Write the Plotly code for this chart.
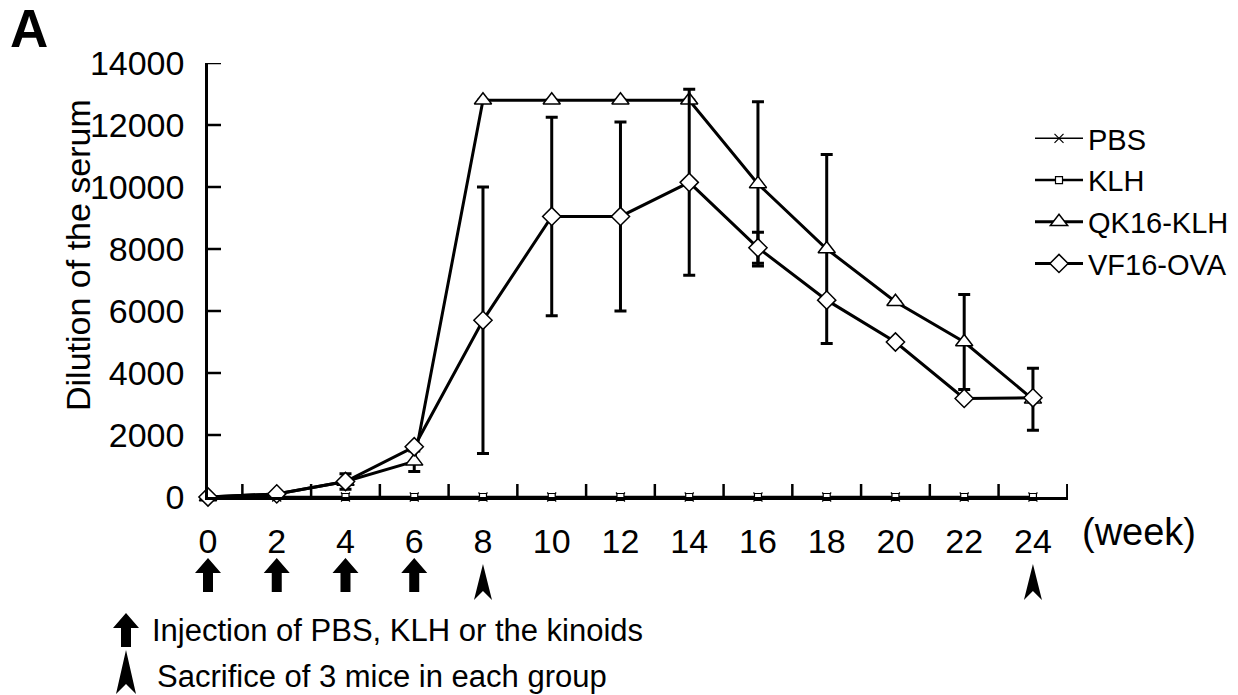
import plotly.graph_objects as go

# ---------------- data ----------------
weeks = [0, 2, 4, 6, 8, 10, 12, 14, 16, 18, 20, 22, 24]
week_labels = ["0", "2", "4", "6", "8", "10", "12", "14", "16", "18", "20", "22", "24"]
minor_weeks = [1, 3, 5, 7, 9, 11, 13, 15, 17, 19, 21, 23, 25]
y_ticks = [0, 2000, 4000, 6000, 8000, 10000, 12000, 14000]
y_tick_labels = ["0", "2000", "4000", "6000", "8000", "10000", "12000", "14000"]

pbs = [0, 0, 0, 0, 0, 0, 0, 0, 0, 0, 0, 0, 0]
klh = [0, 0, 0, 0, 0, 0, 0, 0, 0, 0, 0, 0, 0]
qk16_klh = [0, 100, 500, 1150, 12800, 12800, 12800, 12800, 10100, 8000, 6300, 5000, 3150]
qk16_klh_err = [0, 0, 250, 330, 0, 0, 0, 0, 2650, 3050, 0, 1530, 1000]
vf16_ova = [0, 100, 500, 1620, 5700, 9050, 9050, 10150, 8040, 6350, 5000, 3180, 3200]
vf16_ova_err = [0, 0, 0, 0, 4300, 3200, 3050, 3000, 500, 0, 0, 0, 0]

injection_weeks = [0, 2, 4, 6]
sacrifice_weeks = [8, 24]

# ---------------- layout geometry (pixels) ----------------
W, H = 1238, 695
L, R, T, B = 208, 170, 63, 198
PW, PH = W - L - R, H - T - B
X_RANGE = [0, 25.02]
Y_RANGE = [0, 14000]
TICK_PX = 13


def px(p):
    return (p - L) / PW


def py(p):
    return 1 - (p - T) / PH


def week_to_paper(w):
    return (w - X_RANGE[0]) / (X_RANGE[1] - X_RANGE[0])


FONT = "Liberation Sans, Arial, sans-serif"

fig = go.Figure()

# inward tick marks drawn through the axes' scales
y_tick_len = TICK_PX / PW * (X_RANGE[1] - X_RANGE[0])
x_tick_len = TICK_PX / PH * (Y_RANGE[1] - Y_RANGE[0])
fig.add_trace(go.Scatter(
    x=[X_RANGE[0]] * len(y_ticks), y=y_ticks, mode="markers",
    marker=dict(size=1, color="rgba(0,0,0,0)"),
    error_x=dict(type="data", symmetric=False, array=[y_tick_len] * len(y_ticks),
                 arrayminus=[0] * len(y_ticks), width=0, thickness=2.5, color="black"),
    showlegend=False, hoverinfo="skip", cliponaxis=False))

tick_x, tick_y = [], []
for wk in minor_weeks:
    tick_x += [wk, wk, None]
    tick_y += [Y_RANGE[0], Y_RANGE[0] + x_tick_len, None]
fig.add_trace(go.Scatter(
    x=tick_x, y=tick_y, mode="lines", connectgaps=False,
    line=dict(color="black", width=2.5),
    showlegend=False, hoverinfo="skip"))

fig.add_trace(go.Scatter(
    x=weeks, y=pbs, name="PBS", mode="lines+markers",
    line=dict(color="black", width=1.5),
    marker=dict(symbol="x-thin", size=9, line=dict(color="black", width=1.2)),
    cliponaxis=False, legendgroup="a"))

fig.add_trace(go.Scatter(
    x=weeks, y=klh, name="KLH", mode="lines+markers",
    line=dict(color="black", width=2.5),
    marker=dict(symbol="square", size=7, color="white", line=dict(color="black", width=1.2)),
    cliponaxis=False, legendgroup="b"))

fig.add_trace(go.Scatter(
    x=weeks, y=qk16_klh, name="QK16-KLH", mode="lines+markers",
    line=dict(color="black", width=3),
    marker=dict(symbol="triangle-up", size=15, color="white", line=dict(color="black", width=1.5)),
    error_y=dict(type="data", array=qk16_klh_err, color="black", thickness=3, width=6),
    cliponaxis=False, legendgroup="c"))

fig.add_trace(go.Scatter(
    x=weeks, y=vf16_ova, name="VF16-OVA", mode="lines+markers",
    line=dict(color="black", width=3),
    marker=dict(symbol="diamond", size=14, color="white", line=dict(color="black", width=1.5)),
    error_y=dict(type="data", array=vf16_ova_err, color="black", thickness=3, width=6),
    cliponaxis=False, legendgroup="d"))

# arrow glyphs (pixel paths relative to anchor, y up)
UP_ARROW = "M-5,-17 L5,-17 L5,2 L13,2 L0,17 L-13,2 L-5,2 Z"
SPIKE = "M0,18 L9,-18 L0,-9 L-9,-18 Z"
KEY_SPIKE = "M0,22 L10,-22 L0,-12 L-10,-22 Z"

shapes = []
for wk in injection_weeks:
    shapes.append(dict(type="path", path=UP_ARROW, xref="paper", yref="paper",
                       xsizemode="pixel", ysizemode="pixel", xanchor=week_to_paper(wk), yanchor=py(575),
                       fillcolor="black", line=dict(width=0)))
for wk in sacrifice_weeks:
    shapes.append(dict(type="path", path=SPIKE, xref="paper", yref="paper",
                       xsizemode="pixel", ysizemode="pixel", xanchor=week_to_paper(wk), yanchor=py(582),
                       fillcolor="black", line=dict(width=0)))
# key glyphs
shapes.append(dict(type="path", path=UP_ARROW, xref="paper", yref="paper",
                   xsizemode="pixel", ysizemode="pixel", xanchor=px(126), yanchor=py(630),
                   fillcolor="black", line=dict(width=0)))
shapes.append(dict(type="path", path=KEY_SPIKE, xref="paper", yref="paper",
                   xsizemode="pixel", ysizemode="pixel", xanchor=px(126), yanchor=py(672),
                   fillcolor="black", line=dict(width=0)))

annotations = [
    dict(text="<b>A</b>", x=px(8), y=py(28), xref="paper", yref="paper",
         xanchor="left", yanchor="middle", showarrow=False,
         font=dict(family=FONT, size=53, color="black")),
    dict(text="Dilution of the serum", x=px(78), y=py(255), xref="paper", yref="paper",
         xanchor="center", yanchor="middle", textangle=-90, showarrow=False,
         font=dict(family=FONT, size=34, color="black")),
    dict(text="(week)", x=px(1080), y=py(532), xref="paper", yref="paper",
         xanchor="left", yanchor="middle", showarrow=False,
         font=dict(family=FONT, size=38, color="black")),
    dict(text="Injection of PBS, KLH or the kinoids", x=px(150), y=py(630), xref="paper", yref="paper",
         xanchor="left", yanchor="middle", showarrow=False,
         font=dict(family=FONT, size=31, color="black")),
    dict(text="Sacrifice of 3 mice in each group", x=px(155), y=py(676), xref="paper", yref="paper",
         xanchor="left", yanchor="middle", showarrow=False,
         font=dict(family=FONT, size=31, color="black")),
]

fig.update_layout(
    width=W, height=H,
    margin=dict(l=L, r=R, t=T, b=B, autoexpand=False),
    paper_bgcolor="white", plot_bgcolor="white",
    font=dict(family=FONT, color="black"),
    showlegend=True,
    legend=dict(x=px(1030), y=py(113), xanchor="left", yanchor="top",
                font=dict(family=FONT, size=29, color="black"),
                bgcolor="rgba(0,0,0,0)", tracegroupgap=1, itemwidth=48),
    shapes=shapes,
    annotations=annotations,
    xaxis=dict(range=X_RANGE, showgrid=False, zeroline=False,
               showline=True, linecolor="black", linewidth=2.5,
               tickmode="array", tickvals=weeks, ticktext=week_labels,
               ticks="", ticklabelstandoff=12,
               tickfont=dict(family=FONT, size=34, color="black")),
    yaxis=dict(range=Y_RANGE, showgrid=False, zeroline=False,
               showline=True, linecolor="black", linewidth=2.5,
               tickmode="array", tickvals=y_ticks, ticktext=y_tick_labels,
               ticks="", ticklabelstandoff=14,
               tickfont=dict(family=FONT, size=34, color="black")),
)

fig.write_html("out.html")
